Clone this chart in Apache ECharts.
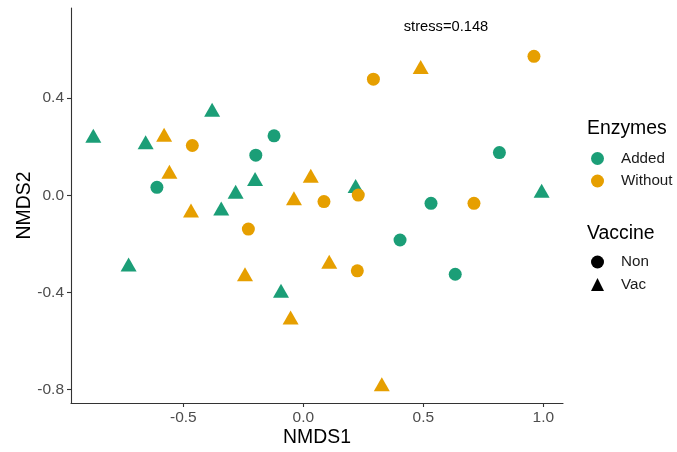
<!DOCTYPE html>
<html><head><meta charset="utf-8">
<script src="https://cdn.jsdelivr.net/npm/echarts@6/dist/echarts.min.js"></script>
<style>html,body{margin:0;padding:0;background:#fff}#c{width:677px;height:452px}</style>
</head><body><div id="c"></div>
<script>
// NMDS coordinates
const addedNon = [[-0.122,0.245],[-0.198,0.165],[-0.610,0.033],[0.817,0.176],[0.532,-0.033],[0.403,-0.184],[0.633,-0.325]];
const addedVac = [[-0.875,0.245],[-0.657,0.218],[-0.380,0.352],[-0.201,0.067],[-0.282,0.015],[-0.342,-0.054],[0.218,0.038],[0.993,0.019],[-0.728,-0.285],[-0.093,-0.393]];
const withoutNon = [[-0.4625,0.205],[0.086,-0.026],[0.229,0.001],[0.961,0.572],[0.292,0.478],[0.711,-0.033],[-0.229,-0.139],[0.225,-0.311]];
const withoutVac = [[-0.580,0.249],[-0.558,0.097],[0.031,0.080],[-0.039,-0.012],[-0.468,-0.063],[0.489,0.528],[-0.243,-0.325],[-0.053,-0.503],[0.108,-0.274],[0.327,-0.778]];
const xTicks = [-0.5, 0.0, 0.5, 1.0];
const yTicks = [-0.8, -0.4, 0.0, 0.4];
const enzymeLevels = ['Added', 'Without'];
const vaccineLevels = ['Non', 'Vac'];
const stressLabel = 'stress=0.148';

const GREEN = '#1B9E77', ORANGE = '#E69F00';
const FONT = '"Liberation Sans", Arial, Helvetica, sans-serif';
const circleSize = 13, triSize = [16, 14];

const chart = echarts.init(document.getElementById('c'), null, {renderer: 'canvas'});

function axisCommon(ticks, margin) {
  return {
    type: 'value',
    splitLine: {show: false},
    axisLine: {show: true, onZero: false, lineStyle: {color: '#333', width: 1.1}},
    axisTick: {show: true, length: 4, customValues: ticks, lineStyle: {color: '#333', width: 1.1}},
    axisLabel: {customValues: ticks, formatter: v => v.toFixed(1), color: '#4d4d4d', fontSize: 15.5, fontFamily: FONT, margin},
    nameLocation: 'middle',
    nameMoveOverlap: false,
    nameTextStyle: {color: '#000', fontSize: 19.4, fontFamily: FONT}
  };
}

const mk = (name, data, color, symbol, size) => ({
  name, type: 'scatter', data, symbol, symbolSize: size,
  itemStyle: {color, opacity: 1}, silent: true, z: 3
});

const legendText = {fontSize: 15.2, color: '#1a1a1a', fontFamily: FONT, padding: [0, 0, 0, 12]};

const option = {
  animation: false,
  backgroundColor: '#fff',
  textStyle: {fontFamily: FONT},
  grid: {left: 71, right: 114, top: 8, bottom: 49, containLabel: false, outerBoundsMode: 'none'},
  xAxis: Object.assign(axisCommon(xTicks, 7), {min: -0.968, max: 1.082, name: 'NMDS1', nameGap: 25}),
  yAxis: Object.assign(axisCommon(yTicks, 7), {min: -0.855, max: 0.771, name: 'NMDS2', nameGap: 37}),
  legend: [
    {orient: 'vertical', left: 591, top: 151, padding: 0, itemGap: 7.5, itemWidth: 13, itemHeight: 13,
     selectedMode: false,
     data: [{name: enzymeLevels[0], icon: 'circle'}, {name: enzymeLevels[1], icon: 'circle'}],
     textStyle: legendText},
    {orient: 'vertical', left: 591, top: 254.5, padding: 0, itemGap: 7.5, itemWidth: 13, itemHeight: 13,
     selectedMode: false,
     data: [{name: vaccineLevels[0], icon: 'circle'}, {name: vaccineLevels[1], icon: 'triangle'}],
     textStyle: legendText}
  ],
  graphic: [
    {type: 'text', x: 587, y: 128.5, style: {text: 'Enzymes', fill: '#000', font: '19.4px ' + FONT, verticalAlign: 'middle'}},
    {type: 'text', x: 587, y: 233.5, style: {text: 'Vaccine', fill: '#000', font: '19.4px ' + FONT, verticalAlign: 'middle'}},
    {type: 'text', x: 446, y: 27, style: {text: stressLabel, fill: '#000', font: '14.7px ' + FONT, align: 'center', verticalAlign: 'middle'}}
  ],
  series: [
    mk('Added · Non', addedNon, GREEN, 'circle', circleSize),
    mk('Added · Vac', addedVac, GREEN, 'triangle', triSize),
    mk('Without · Non', withoutNon, ORANGE, 'circle', circleSize),
    mk('Without · Vac', withoutVac, ORANGE, 'triangle', triSize),
    // legend entries
    mk(enzymeLevels[0], [], GREEN, 'circle', circleSize),
    mk(enzymeLevels[1], [], ORANGE, 'circle', circleSize),
    mk(vaccineLevels[0], [], '#000', 'circle', circleSize),
    mk(vaccineLevels[1], [], '#000', 'triangle', circleSize)
  ]
};
chart.setOption(option);
</script></body></html>
